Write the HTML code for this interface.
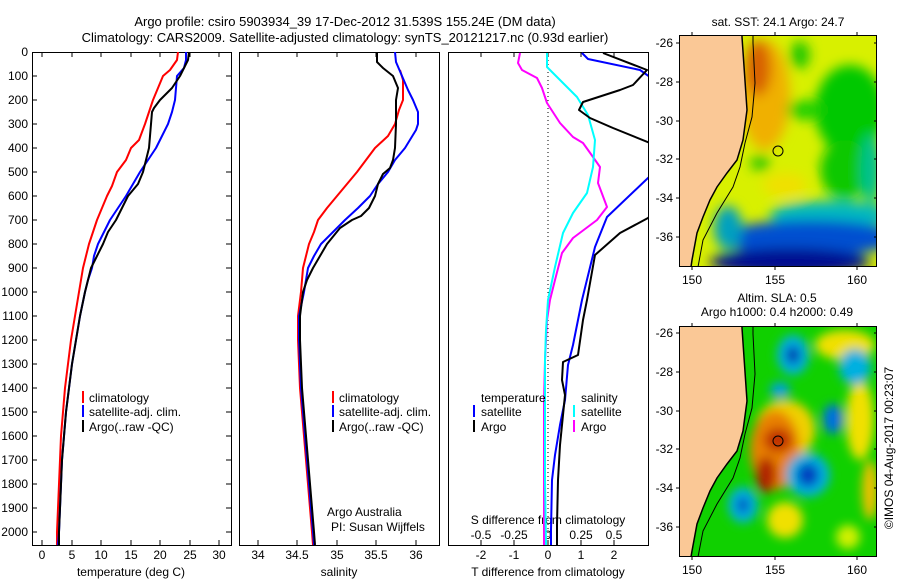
<!DOCTYPE html>
<html><head><meta charset="utf-8"><style>
body{margin:0;background:#fff;}
svg{display:block;font-family:"Liberation Sans",sans-serif;}
text{font-size:12px;fill:#000;}
</style></head><body>
<svg width="900" height="580" viewBox="0 0 900 580" xmlns="http://www.w3.org/2000/svg">
<defs>
<filter id="bl" x="-50%" y="-50%" width="200%" height="200%"><feGaussianBlur stdDeviation="6"/></filter>
<filter id="bl2" x="-50%" y="-50%" width="200%" height="200%"><feGaussianBlur stdDeviation="5"/></filter>
<clipPath id="c1"><rect x="32" y="52" width="199" height="493"/></clipPath>
<clipPath id="c2"><rect x="239" y="52" width="200" height="493"/></clipPath>
<clipPath id="c3"><rect x="448" y="52" width="200" height="493"/></clipPath>
<clipPath id="m1"><rect x="679" y="35" width="198" height="232"/></clipPath>
<clipPath id="m2"><rect x="679" y="326" width="198" height="231"/></clipPath>
</defs>
<text x="345" y="26" text-anchor="middle" style="font-size:13px">Argo profile: csiro 5903934_39 17-Dec-2012 31.539S 155.24E (DM data)</text>
<text x="345" y="42" text-anchor="middle" style="font-size:13px">Climatology: CARS2009. Satellite-adjusted climatology: synTS_20121217.nc (0.93d earlier)</text>

<g text-anchor="end" style="font-size:12px">
<text x="28" y="56">0</text><text x="28" y="80">100</text><text x="28" y="104">200</text><text x="28" y="128">300</text><text x="28" y="152">400</text><text x="28" y="176">500</text><text x="28" y="200">600</text><text x="28" y="224">700</text><text x="28" y="248">800</text><text x="28" y="272">900</text><text x="28" y="296">1000</text><text x="28" y="320">1100</text><text x="28" y="344">1200</text><text x="28" y="368">1300</text><text x="28" y="392">1400</text><text x="28" y="416">1500</text><text x="28" y="440">1600</text><text x="28" y="464">1700</text><text x="28" y="488">1800</text><text x="28" y="512">1900</text><text x="28" y="536">2000</text>
</g>
<g fill="none" stroke="#000" stroke-width="1">
<rect x="32.5" y="52.5" width="199" height="493"/>
<rect x="239.5" y="52.5" width="200" height="493"/>
<rect x="448.5" y="52.5" width="200" height="493"/>
</g>
<g stroke="#000">
<path d="M32 76h5M32 100h5M32 124h5M32 148h5M32 172h5M32 196h5M32 220h5M32 244h5M32 268h5M32 292h5M32 316h5M32 340h5M32 364h5M32 388h5M32 412h5M32 436h5M32 460h5M32 484h5M32 508h5M32 532h5"/>
<path d="M231 76h-5M231 100h-5M231 124h-5M231 148h-5M231 172h-5M231 196h-5M231 220h-5M231 244h-5M231 268h-5M231 292h-5M231 316h-5M231 340h-5M231 364h-5M231 388h-5M231 412h-5M231 436h-5M231 460h-5M231 484h-5M231 508h-5M231 532h-5"/>
<path d="M42 545v-5M72 545v-5M101 545v-5M131 545v-5M160 545v-5M190 545v-5M219 545v-5M42 52v5M72 52v5M101 52v5M131 52v5M160 52v5M190 52v5M219 52v5"/>
<path d="M258 545v-5M297 545v-5M337 545v-5M376 545v-5M416 545v-5M258 52v5M297 52v5M337 52v5M376 52v5M416 52v5"/>
<path d="M481 545v-5M514 545v-5M548 545v-5M581 545v-5M614 545v-5M481 52v5M514 52v5M548 52v5M581 52v5M614 52v5"/>
</g>
<g text-anchor="middle">
<text x="42" y="559">0</text><text x="72" y="559">5</text><text x="101" y="559">10</text><text x="131" y="559">15</text><text x="160" y="559">20</text><text x="190" y="559">25</text><text x="219" y="559">30</text>
<text x="131" y="576">temperature (deg C)</text>
<text x="258" y="559">34</text><text x="297" y="559">34.5</text><text x="337" y="559">35</text><text x="376" y="559">35.5</text><text x="416" y="559">36</text>
<text x="339" y="576">salinity</text>
<text x="481" y="559">-2</text><text x="514" y="559">-1</text><text x="548" y="559">0</text><text x="581" y="559">1</text><text x="614" y="559">2</text>
<text x="548" y="576">T difference from climatology</text>
<text x="481" y="539">-0.5</text><text x="514" y="539">-0.25</text><text x="548" y="539">0</text><text x="581" y="539">0.25</text><text x="614" y="539">0.5</text>
<text x="548" y="524">S difference from climatology</text>
</g>

<g clip-path="url(#c1)" fill="none" stroke-width="2" stroke-linejoin="round">
<polyline stroke="#f00" points="178,52 177,60 170,70 163,76 158,88 153,100 149,112 145,124 139,140 131,148 126,160 117,172 112,186 107,196 102,208 97,220 93,232 89,244 86,256 83,268 81,280 79,292 75,316 71,340 68,364 65,388 63,412 61,436 60,460 59,484 58,508 57,532 57,545"/>
<polyline stroke="#00f" points="186,52 186,60 184,68 177,76 176,88 175,100 172,112 168,124 162,136 156,148 148,160 140,172 133,184 126,196 118,208 110,220 104,232 98,244 94,256 92,268 88,280 85,292 80,316 76,340 72,364 69,388 66,412 64,436 62,460 61,484 60,508 59,532 58,545"/>
<polyline stroke="#000" points="189,52 188,60 186,64 180,76 172,88 160,100 154,108 152,112 151,124 150,136 149,148 146,160 143,172 138,184 128,196 122,208 116,220 108,232 103,244 97,256 91,268 88,280 85,292 80,316 76,340 72,364 69,388 66,412 64,436 62,460 61,484 60,508 59,532 59,545"/>
</g>
<g clip-path="url(#c2)" fill="none" stroke-width="2" stroke-linejoin="round">
<polyline stroke="#f00" points="400,70 403,80 403,100 399,110 395,124 388,136 375,148 366,160 357,172 347,184 337,196 327,208 318,220 314,232 309,244 306,256 303,268 302,280 301,292 298,316 298,340 299,364 300,388 302,412 304,436 306,460 308,484 310,508 312,532 313,545"/>
<polyline stroke="#00f" points="395,52 396,62 402,76 408,90 413,100 418,112 418,124 416,130 405,148 395,160 388,172 378,184 370,196 358,208 345,220 333,232 321,244 314,256 308,268 306,280 304,292 299,316 299,340 300,364 301,388 303,412 305,436 307,460 309,484 311,508 313,532 314,545"/>
<polyline stroke="#000" points="377,52 377,62 383,68 393,76 398,88 396,100 396,124 395,148 393,160 390,168 383,174 378,184 375,196 369,208 361,216 352,220 340,228 327,244 320,256 313,268 307,280 303,292 300,316 300,340 301,364 302,388 304,412 306,436 308,460 310,484 312,508 314,532 315,545"/>
</g>
<line x1="548" y1="52" x2="548" y2="545" stroke="#000" stroke-dasharray="1,3"/>
<g clip-path="url(#c3)" fill="none" stroke-width="2" stroke-linejoin="round">
<polyline stroke="#f0f" points="520,53 518,63 522,70 537,78 542,88 547,103 560,123 573,137 583,143 593,157 600,167 598,183 607,207 597,220 573,238 562,253 555,280 550,300 547,320 545,360 544,400 544,440 544,480 544,545"/>
<polyline stroke="#0ff" points="547,53 547,67 560,80 577,97 588,115 595,140 593,167 587,193 573,213 563,233 555,267 548,300 546,330 545,360 545,400 545,440 545,480 546,545"/>
<polyline stroke="#00f" points="582,53 588,59 640,70 650,77"/>
<polyline stroke="#00f" points="650,176 648,178 607,217 595,247 582,300 580,310 573,345 568,365 565,400 560,425 555,455 552,480 551,530 551,545"/>
<polyline stroke="#000" points="603,53 647,70 633,85 620,90 583,102 579,110 590,118 613,128 650,143"/>
<polyline stroke="#000" points="650,216 648,218 620,233 595,255 587,300 583,320 578,355 563,362 562,380 565,395 563,415 560,445 558,480 557,525 557,545"/>
</g>
<g stroke-width="2">
<line x1="83" y1="391" x2="83" y2="403" stroke="#f00"/><line x1="83" y1="405" x2="83" y2="417" stroke="#00f"/><line x1="83" y1="420" x2="83" y2="432" stroke="#000"/>
<line x1="333" y1="391" x2="333" y2="403" stroke="#f00"/><line x1="333" y1="405" x2="333" y2="417" stroke="#00f"/><line x1="333" y1="420" x2="333" y2="432" stroke="#000"/>
<line x1="474" y1="405" x2="474" y2="417" stroke="#00f"/><line x1="474" y1="420" x2="474" y2="432" stroke="#000"/>
<line x1="574" y1="405" x2="574" y2="417" stroke="#0ff"/><line x1="574" y1="420" x2="574" y2="432" stroke="#f0f"/>
</g>
<text x="89" y="402">climatology</text><text x="89" y="416">satellite-adj. clim.</text><text x="89" y="431">Argo(..raw -QC)</text>
<text x="339" y="402">climatology</text><text x="339" y="416">satellite-adj. clim.</text><text x="339" y="431">Argo(..raw -QC)</text>
<text x="481" y="402">temperature</text><text x="481" y="416">satellite</text><text x="481" y="431">Argo</text>
<text x="581" y="402">salinity</text><text x="581" y="416">satellite</text><text x="581" y="431">Argo</text>
<text x="327" y="516">Argo Australia</text><text x="331" y="531">PI: Susan Wijffels</text>

<!-- map 1 SST -->
<text x="778" y="26" text-anchor="middle">sat. SST: 24.1  Argo: 24.7</text>
<g clip-path="url(#m1)">
<rect x="679" y="35" width="198" height="232" fill="#d8f000"/>
<g filter="url(#bl)">
<ellipse cx="765" cy="95" rx="25" ry="55" fill="#f0b000"/>
<ellipse cx="758" cy="68" rx="13" ry="28" fill="#d86000"/>
<ellipse cx="850" cy="110" rx="35" ry="45" fill="#00c800"/>
<ellipse cx="845" cy="170" rx="25" ry="30" fill="#10c800"/>
<ellipse cx="805" cy="110" rx="18" ry="10" fill="#20d000"/>
<ellipse cx="800" cy="55" rx="10" ry="14" fill="#20c800"/>
<ellipse cx="760" cy="163" rx="10" ry="8" fill="#30c800"/>
<ellipse cx="871" cy="170" rx="10" ry="35" fill="#00c090"/>
<ellipse cx="785" cy="185" rx="22" ry="12" fill="#f0e000"/>
<ellipse cx="830" cy="215" rx="60" ry="14" fill="#00b8c0"/>
<ellipse cx="810" cy="238" rx="90" ry="18" fill="#0050d0"/>
<ellipse cx="790" cy="262" rx="80" ry="14" fill="#001090"/>
<ellipse cx="728" cy="228" rx="14" ry="22" fill="#00a0c0"/>
</g>
<polygon points="679,35 742,35 742,37 747,110 743,140 737,160 727,173 717,187 710,200 703,217 697,233 692,260 691,267 679,267" fill="#fac896"/>
<polyline points="742,35 742,37 747,110 743,140 737,160 727,173 717,187 710,200 703,217 697,233 692,260 691,267" fill="none" stroke="#000" stroke-width="1.5"/>
<polyline points="753,35 753,43 755,83 752,117 745,143 740,167 733,187 717,213 703,240 698,267" fill="none" stroke="#000" stroke-width="1"/>
<circle cx="778" cy="151" r="5" fill="none" stroke="#000"/>
</g>
<rect x="679.5" y="35.5" width="197" height="231" fill="none" stroke="#000"/>
<g stroke="#000"><path d="M679 43h-3M679 82h-3M679 121h-3M679 159h-3M679 198h-3M679 237h-3M877 43h-3M877 82h-3M877 121h-3M877 159h-3M877 198h-3M877 237h-3M692 35v-3M775 35v-3M857 35v-3M692 267v3M775 267v3M857 267v3"/></g>
<g text-anchor="end"><text x="673" y="47">-26</text><text x="673" y="86">-28</text><text x="673" y="125">-30</text><text x="673" y="163">-32</text><text x="673" y="202">-34</text><text x="673" y="241">-36</text></g>
<g text-anchor="middle"><text x="692" y="284">150</text><text x="775" y="284">155</text><text x="857" y="284">160</text>
<text x="777" y="302">Altim. SLA: 0.5</text><text x="777" y="316">Argo h1000: 0.4 h2000: 0.49</text></g>

<!-- map 2 SLA -->
<g clip-path="url(#m2)">
<rect x="679" y="326" width="198" height="231" fill="#10d000"/>
<g filter="url(#bl2)">
<ellipse cx="845" cy="345" rx="30" ry="15" fill="#f0e000"/>
<ellipse cx="860" cy="420" rx="14" ry="40" fill="#f0e000"/>
<ellipse cx="870" cy="490" rx="8" ry="30" fill="#f0c000"/>
<ellipse cx="785" cy="430" rx="30" ry="30" fill="#f0d000"/>
<ellipse cx="775" cy="450" rx="25" ry="40" fill="#e88000"/>
<ellipse cx="778" cy="440" rx="14" ry="12" fill="#c03000"/>
<ellipse cx="766" cy="475" rx="10" ry="18" fill="#b02000"/>
<ellipse cx="785" cy="520" rx="18" ry="18" fill="#f0e000"/>
<ellipse cx="848" cy="537" rx="12" ry="12" fill="#d0f000"/>
<ellipse cx="793" cy="355" rx="16" ry="20" fill="#00b0e0"/>
<ellipse cx="793" cy="355" rx="7" ry="9" fill="#0030b0"/>
<ellipse cx="855" cy="367" rx="16" ry="18" fill="#00b0e0"/>
<ellipse cx="780" cy="390" rx="10" ry="8" fill="#00a0e0"/>
<ellipse cx="833" cy="419" rx="10" ry="15" fill="#0070e0"/>
<ellipse cx="808" cy="475" rx="22" ry="22" fill="#00b0e0"/>
<ellipse cx="808" cy="475" rx="11" ry="12" fill="#0040c0"/>
<ellipse cx="743" cy="505" rx="15" ry="18" fill="#00b0e0"/>
<ellipse cx="743" cy="505" rx="6" ry="8" fill="#0050c0"/>
</g>
<polygon points="679,326 742,326 742,328 747,401 743,431 737,451 727,464 717,478 710,491 703,508 697,524 692,551 691,557 679,557" fill="#fac896"/>
<polyline points="742,326 742,328 747,401 743,431 737,451 727,464 717,478 710,491 703,508 697,524 692,551 691,557" fill="none" stroke="#000" stroke-width="1.5"/>
<polyline points="753,326 753,334 755,374 752,408 745,434 740,458 733,478 717,504 703,531 698,557" fill="none" stroke="#000" stroke-width="1"/>
<circle cx="778" cy="441" r="5" fill="none" stroke="#000"/>
</g>
<rect x="679.5" y="326.5" width="197" height="230" fill="none" stroke="#000"/>
<g stroke="#000"><path d="M679 333h-3M679 372h-3M679 411h-3M679 449h-3M679 488h-3M679 527h-3M877 333h-3M877 372h-3M877 411h-3M877 449h-3M877 488h-3M877 527h-3M692 326v-3M775 326v-3M857 326v-3M692 557v3M775 557v3M857 557v3"/></g>
<g text-anchor="end"><text x="673" y="337">-26</text><text x="673" y="376">-28</text><text x="673" y="415">-30</text><text x="673" y="453">-32</text><text x="673" y="492">-34</text><text x="673" y="531">-36</text></g>
<g text-anchor="middle"><text x="692" y="574">150</text><text x="775" y="574">155</text><text x="857" y="574">160</text></g>
<text transform="translate(893,448) rotate(-90)" text-anchor="middle">©IMOS 04-Aug-2017 00:23:07</text>
</svg>
</body></html>
